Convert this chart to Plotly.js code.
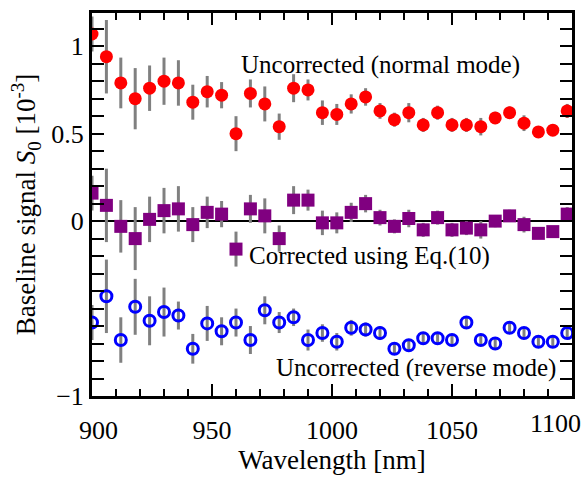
<!DOCTYPE html>
<html>
<head>
<meta charset="utf-8">
<script src="https://cdn.plot.ly/plotly-3.0.1.min.js"></script>
<style>html,body{margin:0;padding:0;background:#fff;}#chart{width:585px;height:479px;}</style>
</head>
<body>
<div id="chart"></div>
<script>
// Wavelength positions [nm]
const wavelength = [900,906,912,918,924,930,936,942,948,954,960,966,972,978,984,990,996,1002,1008,1014,1020,1026,1032,1038,1044,1050,1056,1062,1068,1074,1080,1086,1092,1098];

// Uncorrected (normal mode)
const normalMode = [1.07,0.94,0.79,0.70,0.76,0.80,0.79,0.68,0.74,0.72,0.50,0.73,0.67,0.54,0.76,0.75,0.62,0.61,0.67,0.71,0.63,0.58,0.62,0.55,0.62,0.55,0.55,0.54,0.59,0.62,0.56,0.51,0.52,0.63];
const normalErr  = [0.10,0.21,0.145,0.175,0.13,0.135,0.13,0.10,0.09,0.075,0.10,0.08,0.10,0.075,0.08,0.06,0.07,0.06,0.055,0.05,0.045,0.04,0.055,0.04,0.04,0.04,0.04,0.05,0.035,0.035,0.045,0.025,0.025,0.04];

// Corrected using Eq.(10)
const corrected    = [0.16,0.09,-0.03,-0.10,0.01,0.06,0.07,-0.02,0.05,0.04,-0.16,0.07,0.03,-0.10,0.12,0.12,-0.01,-0.01,0.05,0.10,0.02,-0.03,0.015,-0.05,0.02,-0.05,-0.04,-0.05,0.00,0.03,-0.02,-0.07,-0.06,0.04];
const correctedErr = [0.10,0.21,0.15,0.18,0.13,0.13,0.13,0.10,0.09,0.075,0.10,0.08,0.10,0.075,0.08,0.06,0.07,0.06,0.055,0.05,0.045,0.04,0.05,0.04,0.04,0.04,0.04,0.05,0.035,0.035,0.045,0.03,0.03,0.04];

// Uncorrected (reverse mode)
const reverseMode = [-0.58,-0.43,-0.68,-0.49,-0.57,-0.52,-0.54,-0.73,-0.585,-0.63,-0.58,-0.68,-0.51,-0.58,-0.55,-0.68,-0.64,-0.69,-0.61,-0.62,-0.64,-0.73,-0.71,-0.67,-0.67,-0.68,-0.58,-0.68,-0.70,-0.61,-0.64,-0.69,-0.69,-0.64];
const reverseErr  = [0.10,0.21,0.13,0.16,0.14,0.14,0.08,0.085,0.10,0.08,0.08,0.08,0.08,0.06,0.05,0.06,0.05,0.05,0.045,0.04,0.04,0.035,0.035,0.03,0.03,0.03,0.03,0.03,0.03,0.03,0.03,0.03,0.03,0.03];

// Tick labels
const xTickVals = [900,950,1000,1050,1100];
const xTickText = ['\u2007900','950','1000','1050',''];
const xEndTickVals = [1100];
const xEndTickText = ['1100'];
const yTickVals = [-1,-0.5,0,0.5,1];
const yTickText = ['\u22121','','0','0.5','1'];

const FONT = 'Liberation Serif, Times New Roman, serif';
const errStyle = {type:'data', color:'#808080', thickness:3, width:0};

const traces = [
  {x: wavelength, y: reverseMode, type:'scatter', mode:'markers',
   error_y: Object.assign({array: reverseErr}, errStyle),
   marker:{symbol:'circle-open', size:11, color:'#0000ff', line:{width:3, color:'#0000ff'}}},
  {x: wavelength, y: corrected, type:'scatter', mode:'markers',
   error_y: Object.assign({array: correctedErr}, errStyle),
   marker:{symbol:'square', size:13, color:'#800080'}},
  {x: wavelength, y: normalMode, type:'scatter', mode:'markers',
   error_y: Object.assign({array: normalErr}, errStyle),
   marker:{symbol:'circle', size:13, color:'#ff0000'}},
  // carrier for the overlay axis that holds the right-aligned end label
  {x: [], y: [], type:'scatter', mode:'markers', xaxis:'x2', yaxis:'y', hoverinfo:'skip'}
];

const axisCommon = {
  showline:true, linewidth:3, linecolor:'#000', mirror:'allticks',
  ticks:'inside', ticklen:12, tickwidth:2, tickcolor:'#000',
  showgrid:false, ticklabeloverflow:'allow',
  tickfont:{family:FONT, size:26, color:'#000'}
};

const layout = {
  width:585, height:479,
  margin:{l:92, r:13, t:13, b:83, pad:0},
  paper_bgcolor:'#fff', plot_bgcolor:'#fff',
  showlegend:false,
  font:{family:FONT, color:'#000'},
  xaxis: Object.assign({}, axisCommon, {
    range:[900,1100], tickmode:'array', tickvals:xTickVals, ticktext:xTickText,
    zeroline:false, ticklabelstandoff:9,
    minor:{dtick:10, tick0:900, ticks:'inside', ticklen:7, tickwidth:2, tickcolor:'#000', showgrid:false},
    title:{text:'Wavelength [nm]', font:{family:FONT, size:27, color:'#000'}, standoff:2}
  }),
  xaxis2: {
    overlaying:'x', anchor:'y', side:'bottom', range:[900,1100],
    tickmode:'array', tickvals:xEndTickVals, ticktext:xEndTickText,
    ticks:'', showline:false, showgrid:false, zeroline:false,
    ticklabelposition:'outside left', ticklabelshift:9, ticklabelstandoff:9,
    ticklabeloverflow:'allow',
    tickfont:{family:FONT, size:26, color:'#000'}
  },
  yaxis: Object.assign({}, axisCommon, {
    range:[-1,1.19], tickmode:'array', tickvals:yTickVals, ticktext:yTickText,
    zeroline:true, zerolinecolor:'#000', zerolinewidth:2.5,
    minor:{dtick:0.1, tick0:0, ticks:'inside', ticklen:7, tickwidth:2, tickcolor:'#000', showgrid:false},
    title:{text:'Baseline signal <i>S</i><sub>0</sub> [10<sup>-3</sup>]\u2007', font:{family:FONT, size:27, color:'#000'}, standoff:8}
  }),
  annotations:[
    {x:1020, y:0.89, xref:'x', yref:'y', text:'Uncorrected (normal mode)', showarrow:false,
     font:{family:FONT, size:25, color:'#000'}},
    {x:1015.5, y:-0.2, xref:'x', yref:'y', text:'Corrected using Eq.(10)', showarrow:false,
     font:{family:FONT, size:25, color:'#000'}},
    {x:1035, y:-0.84, xref:'x', yref:'y', text:'Uncorrected (reverse mode)', showarrow:false,
     font:{family:FONT, size:25, color:'#000'}}
  ]
};

Plotly.newPlot('chart', traces, layout, {displayModeBar:false, staticPlot:true});
</script>
</body>
</html>
